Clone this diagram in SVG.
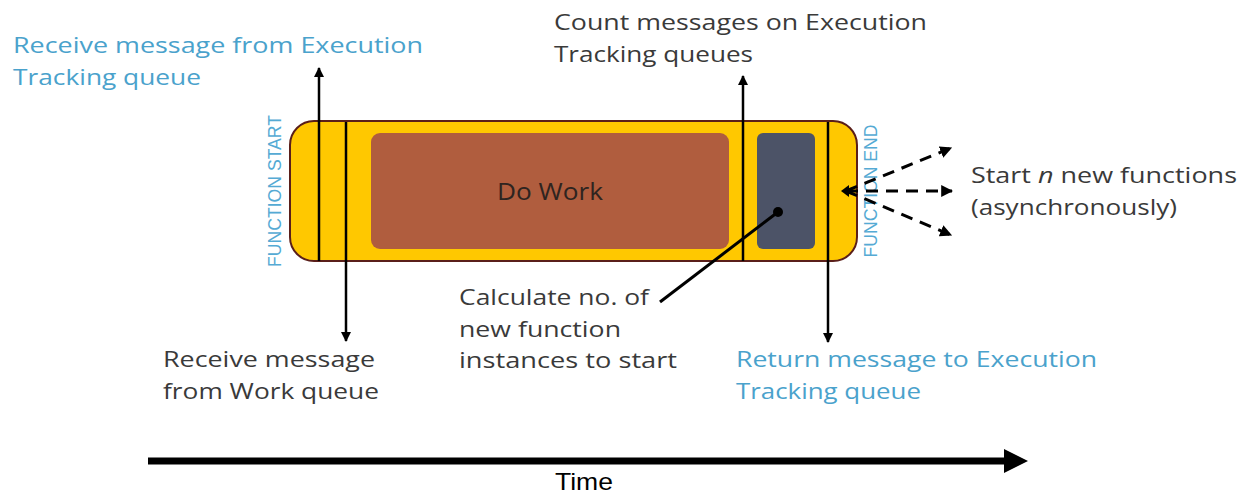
<svg xmlns="http://www.w3.org/2000/svg" width="1250" height="495" viewBox="0 0 1250 495">
  <defs>
    <marker id="tip" viewBox="0 0 10 10" refX="9" refY="5" markerWidth="10" markerHeight="10" markerUnits="userSpaceOnUse" orient="auto">
      <path d="M0,0 L10,5 L0,10 z" fill="#000"/>
    </marker>
    <marker id="tipDash" viewBox="0 0 10 10" refX="9" refY="5" markerWidth="12" markerHeight="12" markerUnits="userSpaceOnUse" orient="auto">
      <path d="M0,0 L10,5 L0,10 z" fill="#000"/>
    </marker>
    <style>
      .lbl { font-family: "Open Sans", "Liberation Sans", sans-serif; font-size: 22px; fill: #3a3a3a; }
      .blue { fill: #4aa2cc; }
      .side { font-family: "Liberation Sans", Arial, sans-serif; font-size: 19px; fill: #55aad4; }
      .tick { stroke: #000; stroke-width: 2.5; fill: none; }
      .dash { stroke: #000; stroke-width: 3; stroke-dasharray: 12 8; fill: none; }
    </style>
  </defs>

  <!-- function lifetime bar -->
  <g id="function-bar">
    <rect x="290" y="121" width="567" height="140" rx="24" ry="24" fill="#ffc800" stroke="#5a1f1a" stroke-width="2"/>
    <text class="side" transform="translate(281,191) rotate(-90)" text-anchor="middle" textLength="152" lengthAdjust="spacingAndGlyphs">FUNCTION START</text>
    <text class="side" transform="translate(877,191) rotate(-90)" text-anchor="middle" textLength="133" lengthAdjust="spacingAndGlyphs">FUNCTION END</text>
  </g>

  <g id="do-work">
    <rect x="371" y="133" width="358" height="116" rx="9" ry="9" fill="#b05d3e"/>
    <text class="lbl" x="550" y="200" text-anchor="middle" style="fill:#2e2420;font-size:23px" textLength="106" lengthAdjust="spacingAndGlyphs">Do Work</text>
  </g>

  <g id="calculate">
    <rect x="757" y="133" width="58" height="116" rx="6" ry="6" fill="#4c5367"/>
  </g>

  <!-- connectors -->
  <g id="connectors">
    <line class="tick" x1="319" y1="261" x2="319" y2="68" marker-end="url(#tip)"/>
    <line class="tick" x1="346" y1="122" x2="346" y2="341" marker-end="url(#tip)"/>
    <line class="tick" x1="743" y1="261" x2="743" y2="76" marker-end="url(#tip)"/>
    <line class="tick" x1="828" y1="122" x2="828" y2="342" marker-end="url(#tip)"/>
    <line x1="778" y1="212" x2="660" y2="302" stroke="#000" stroke-width="3"/>
    <circle cx="778" cy="212" r="5" fill="#000"/>
    <path d="M849,185 L841,191 L849,197 z" fill="#000"/>
    <line class="dash" x1="846" y1="191" x2="951" y2="148" marker-end="url(#tipDash)"/>
    <line class="dash" x1="846" y1="191" x2="952" y2="191" marker-end="url(#tipDash)"/>
    <line class="dash" x1="846" y1="191" x2="951" y2="235" marker-end="url(#tipDash)"/>
    <!-- time axis -->
    <line x1="148" y1="461" x2="1008" y2="461" stroke="#000" stroke-width="7"/>
    <path d="M1004,449 L1028,461 L1004,473 z" fill="#000"/>
  </g>

  <!-- labels -->
  <g id="label-receive-exec">
    <text class="lbl blue" x="13" y="53" textLength="410" lengthAdjust="spacingAndGlyphs">Receive message from Execution</text>
    <text class="lbl blue" x="13" y="85" textLength="188" lengthAdjust="spacingAndGlyphs">Tracking queue</text>
  </g>
  <g id="label-count">
    <text class="lbl" x="554" y="30" textLength="373" lengthAdjust="spacingAndGlyphs">Count messages on Execution</text>
    <text class="lbl" x="554" y="62" textLength="199" lengthAdjust="spacingAndGlyphs">Tracking queues</text>
  </g>
  <g id="label-receive-work">
    <text class="lbl" x="163" y="367" textLength="212" lengthAdjust="spacingAndGlyphs">Receive message</text>
    <text class="lbl" x="163" y="399" textLength="216" lengthAdjust="spacingAndGlyphs">from Work queue</text>
  </g>
  <g id="label-calculate">
    <text class="lbl" x="459" y="305" textLength="190" lengthAdjust="spacingAndGlyphs">Calculate no. of</text>
    <text class="lbl" x="459" y="337" textLength="162" lengthAdjust="spacingAndGlyphs">new function</text>
    <text class="lbl" x="459" y="368" textLength="218" lengthAdjust="spacingAndGlyphs">instances to start</text>
  </g>
  <g id="label-return">
    <text class="lbl blue" x="736" y="367" textLength="361" lengthAdjust="spacingAndGlyphs">Return message to Execution</text>
    <text class="lbl blue" x="736" y="399" textLength="185" lengthAdjust="spacingAndGlyphs">Tracking queue</text>
  </g>
  <g id="label-start">
    <text class="lbl" x="971" y="183" textLength="266" lengthAdjust="spacingAndGlyphs">Start <tspan font-style="italic">n</tspan> new functions</text>
    <text class="lbl" x="971" y="215" textLength="206" lengthAdjust="spacingAndGlyphs">(asynchronously)</text>
  </g>
  <g id="label-time">
    <text x="584" y="490" text-anchor="middle" font-family="Liberation Sans, Arial, sans-serif" font-size="24" fill="#000" textLength="58" lengthAdjust="spacingAndGlyphs">Time</text>
  </g>
</svg>
